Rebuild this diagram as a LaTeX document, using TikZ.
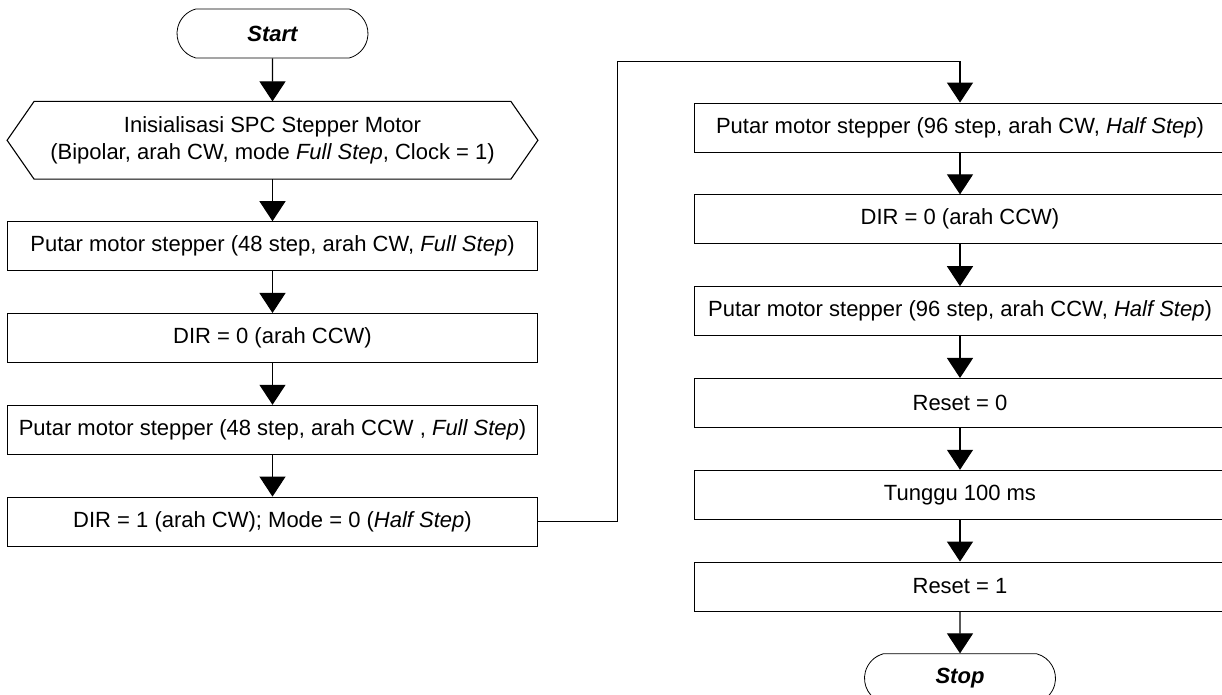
\documentclass[tikz,border=0pt]{standalone}
\usepackage{fontspec}
\setmainfont{Liberation Sans}
\usepackage{tikz}
\usetikzlibrary{arrows.meta,positioning,shapes.misc}

\begin{document}
\begin{tikzpicture}[
  x=0.5pt, y=-0.5pt,
  node distance=21pt,
  font=\fontsize{11}{13.5}\selectfont,
  terminal/.style={
    draw, rounded rectangle, rounded rectangle arc length=150,
    minimum width=95.5pt, minimum height=24.5pt, inner sep=0pt,
    font=\fontsize{11}{13.5}\selectfont\bfseries\itshape
  },
  prep/.style={
    minimum width=265pt, minimum height=38.5pt, inner sep=0pt, align=center
  },
  proc/.style={
    draw, minimum width=265pt, minimum height=24.5pt, inner sep=0pt
  },
  wide/.style={proc, minimum width=266pt},
  line/.style={line width=0.55pt, color=black},
  arrow/.style={line, -{Triangle[width=13pt, length=10pt]}}
]
  \useasboundingbox (0,0) rectangle (1222,695);
  \node[terminal] (start) at (272.5,33.5) {Start};
  \node[prep, below=21.5pt of start] (init) {Inisialisasi SPC Stepper Motor\\(Bipolar, arah CW, mode \textit{Full Step}, Clock = 1)};
  \draw[line] (init.west) -- ([xshift=13.5pt]init.north west) -- ([xshift=-13.5pt]init.north east)
    -- (init.east) -- ([xshift=-13.5pt]init.south east) -- ([xshift=13.5pt]init.south west) -- cycle;
  \node[proc, below=of init] (cw1) {Putar motor stepper (48 step, arah CW, \textit{Full Step})};
  \node[proc, below=of cw1] (dir0) {DIR = 0 (arah CCW)};
  \node[proc, below=of dir0] (ccw1) {Putar motor stepper (48 step, arah CCW , \textit{Full Step})};
  \node[proc, below=of ccw1] (dir1) {DIR = 1 (arah CW); Mode = 0 (\textit{Half Step})};
  \node[wide] (cw2) at (960,127.5) {Putar motor stepper (96 step, arah CW, \textit{Half Step})};
  \node[wide, below=of cw2] (dir0b) {DIR = 0 (arah CCW)};
  \node[wide, below=of dir0b] (ccw2) {Putar motor stepper (96 step, arah CCW, \textit{Half Step})};
  \node[wide, below=of ccw2] (rst0) {Reset = 0};
  \node[wide, below=of rst0] (wait) {Tunggu 100 ms};
  \node[wide, below=of wait] (rst1) {Reset = 1};
  \node[terminal, below=of rst1] (stop) {Stop};
  \coordinate[right=40pt of dir1.east] (bend);
  \coordinate[above=20.5pt of cw2.north] (over);
  \draw[arrow] (start) -- (init);
  \draw[arrow] (init) -- (cw1);
  \draw[arrow] (cw1) -- (dir0);
  \draw[arrow] (dir0) -- (ccw1);
  \draw[arrow] (ccw1) -- (dir1);
  \draw[arrow] (dir1.east) -- (bend) |- (over) -- (cw2.north);
  \draw[arrow] (cw2) -- (dir0b);
  \draw[arrow] (dir0b) -- (ccw2);
  \draw[arrow] (ccw2) -- (rst0);
  \draw[arrow] (rst0) -- (wait);
  \draw[arrow] (wait) -- (rst1);
  \draw[arrow] (rst1) -- (stop);
\end{tikzpicture}
\end{document}
